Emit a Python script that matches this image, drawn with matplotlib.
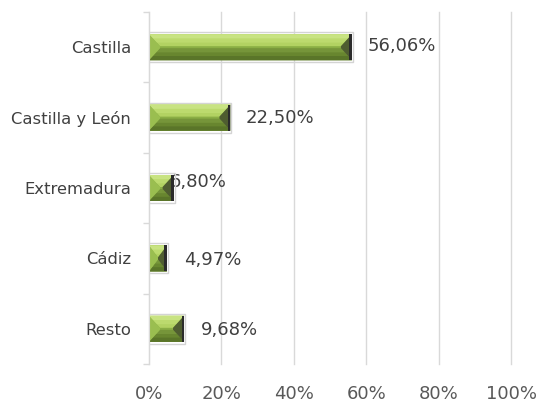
import matplotlib.pyplot as plt
from matplotlib.patches import Polygon, Rectangle

# Reparto por origen (fracción del total)
regiones = ["Castilla", "Castilla y León", "Extremadura", "Cádiz", "Resto"]
valores = [0.5606, 0.2250, 0.0680, 0.0497, 0.0968]
etiquetas = ["56,06%", "22,50%", "6,80%", "4,97%", "9,68%"]
ticks_x = [0, 0.2, 0.4, 0.6, 0.8, 1.0]
ticks_x_txt = ["0%", "20%", "40%", "60%", "80%", "100%"]

# desplazamiento de cada etiqueta respecto al final de la barra (puntos)
desp_etiqueta = [(11, 1), (11, 0), (-3, 4), (12, -1), (12, -1)]

GRIS = "#d9d9d9"
W, H = 540, 407
fig = plt.figure(figsize=(W / 100, H / 100), dpi=100)
ax = fig.add_axes([149 / W, (H - 364) / H, 362 / W, 352 / H])

ax.set_xlim(0, 1)
ax.set_ylim(4.5, -0.5)

# tamaño de un píxel en unidades de datos
px = 1 / 362
py = 5 / 352

alto = 26 * py
bev_x = 11 * px
bev_y = 12 * py
borde = 2.5 * px


def cara(ax, pts, color, z=4):
    ax.add_patch(Polygon(pts, closed=True, facecolor=color, lw=0, zorder=z))


def barra_biselada(ax, y, v):
    y0, y1 = y - alto / 2, y + alto / 2   # y0 arriba (eje invertido)
    bx = min(bev_x, v / 2)
    # marco gris claro alrededor
    ax.add_patch(Rectangle((-px, y0 - 2 * py), v + 2 * px, alto + 4 * py,
                           facecolor="none", edgecolor="#d4d4d4", lw=1, zorder=2))
    # cuerpo
    ax.add_patch(Rectangle((0, y0), v, alto, facecolor="#8aae44", lw=0, zorder=3))
    # cara superior (clara, en degradado)
    pasos = [("#b2d262", 1.0), ("#bcda6e", 0.7), ("#c8e382", 0.35)]
    for col, f in pasos:
        cara(ax, [(0, y0), (v, y0), (v - bx * f, y0 + bev_y * f), (bx * f, y0 + bev_y * f)], col)
    # cara inferior (oscura)
    pasos = [("#76953a", 1.0), ("#68862f", 0.65), ("#5a7529", 0.35)]
    for col, f in pasos:
        cara(ax, [(0, y1), (v, y1), (v - bx * f, y1 - bev_y * f), (bx * f, y1 - bev_y * f)], col)
    # cara izquierda
    cara(ax, [(0, y0), (bx, y0 + bev_y), (bx, y1 - bev_y), (0, y1)], "#9abe50")
    # cara derecha
    cara(ax, [(v, y0), (v - bx, y0 + bev_y), (v - bx, y1 - bev_y), (v, y1)], "#4f5d30")
    # canto negro del extremo
    ax.add_patch(Rectangle((v - borde, y0), borde, alto, facecolor="#2b2b2b", lw=0, zorder=5))


for i, (v, txt) in enumerate(zip(valores, etiquetas)):
    barra_biselada(ax, i, v)
    dx, dy = desp_etiqueta[i]
    ax.annotate(txt, xy=(v, i), xytext=(dx, dy), textcoords="offset points",
                ha="left", va="center", fontsize=13, color="#404040", zorder=1)

# ejes y rejilla
for s in ["top", "right", "bottom"]:
    ax.spines[s].set_visible(False)
ax.spines["left"].set_color(GRIS)
ax.spines["left"].set_zorder(6)

ax.set_xticks(ticks_x)
ax.set_xticklabels(ticks_x_txt)
ax.xaxis.grid(True, color=GRIS, lw=1)
for g in ax.get_xgridlines():
    g.set_clip_on(False)
ax.set_axisbelow(True)
ax.tick_params(axis="x", length=0, pad=15, labelsize=13, labelcolor="#595959")

ax.set_yticks(range(len(regiones)))
ax.set_yticklabels(regiones)
ax.set_yticks([i - 0.5 for i in range(len(regiones) + 1)], minor=True)
ax.tick_params(axis="y", which="major", length=0, pad=13, labelsize=11.8, labelcolor="#404040")
ax.tick_params(axis="y", which="minor", length=4, width=1, color=GRIS, direction="out")

fig.savefig("out.png", dpi=100)
